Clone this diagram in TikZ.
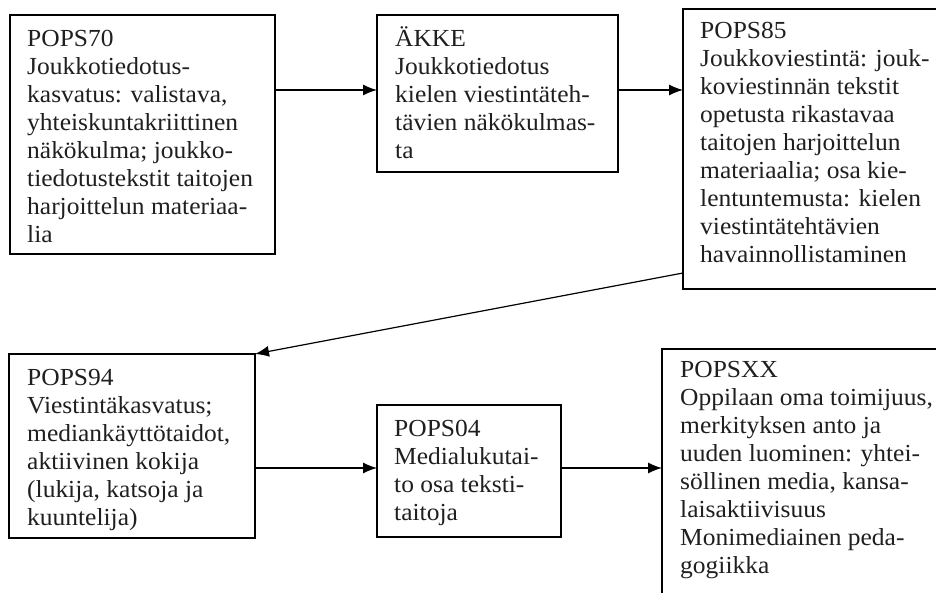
\documentclass[tikz,border=0pt]{standalone}
\usepackage{fontspec}
\setmainfont{Liberation Serif}[FakeStretch=1.04]
\usetikzlibrary{arrows.meta}
\begin{document}
\begin{tikzpicture}[x=1pt,y=-1pt,
  box/.style={draw, line width=1.4pt, inner sep=0pt, outer sep=0pt, anchor=north west},
  txt/.style={anchor=north west, inner sep=0pt, align=left, text=black!88,
    font=\fontsize{24.5}{28}\selectfont},
  conn/.style={line width=1.2pt, -{Latex[length=14pt,width=11pt]}}]
\clip (0,0) rectangle (936,593);
% curriculum boxes (POPS85 and POPSXX run past the page edge)
\node[box, minimum width=265pt, minimum height=239pt] (b1) at (10,15) {};
\node[box, minimum width=241pt, minimum height=157pt] (b2) at (377,15) {};
\node[box, minimum width=290pt, minimum height=280pt] (b3) at (683,9) {};
\node[box, minimum width=246pt, minimum height=184pt] (b4) at (9,354) {};
\node[box, minimum width=184pt, minimum height=132pt] (b5) at (377,405) {};
\node[box, minimum width=300pt, minimum height=280pt] (b6) at (662,349) {};
% texts
\node[txt] (t1) at (27,27.1) {\strut POPS70\\Joukkotiedotus-\\kasvatus: valistava,\\yhteiskuntakriittinen\\näkökulma; joukko-\\tiedotustekstit taitojen\\harjoittelun materiaa-\\lia};
\node[txt] (t2) at (395,26.4) {\strut ÄKKE\\Joukkotiedotus\\kielen viestintäteh-\\tävien näkökulmas-\\ta};
\node[txt] (t3) at (700,18.4) {\strut POPS85\\Joukkoviestintä: jouk-\\koviestinnän tekstit\\opetusta rikastavaa\\taitojen harjoittelun\\materiaalia; osa kie-\\lentuntemusta: kielen\\viestintätehtävien\\havainnollistaminen};
\node[txt] (t4) at (27,365.4) {\strut POPS94\\Viestintäkasvatus;\\mediankäyttötaidot,\\aktiivinen kokija\\(lukija, katsoja ja\\kuuntelija)};
\node[txt] (t5) at (394,416.4) {\strut POPS04\\Medialukutai-\\to osa teksti-\\taitoja};
\node[txt] (t6) at (680,357.4) {\strut POPSXX\\Oppilaan oma toimijuus,\\merkityksen anto ja\\uuden luominen: yhtei-\\söllinen media, kansa-\\laisaktiivisuus\\Monimediainen peda-\\gogiikka};
% connectors
\draw[conn] (b1.east |- 0,90) -- (b2.west |- 0,90);
\draw[conn] (b2.east |- 0,90) -- (b3.west |- 0,90);
\draw[conn] (b3.west |- 0,273) -- (b4.north east);
\draw[conn] (b4.east |- 0,468) -- (b5.west |- 0,468);
\draw[conn] (b5.east |- 0,468) -- (b6.west |- 0,468);
\end{tikzpicture}
\end{document}
